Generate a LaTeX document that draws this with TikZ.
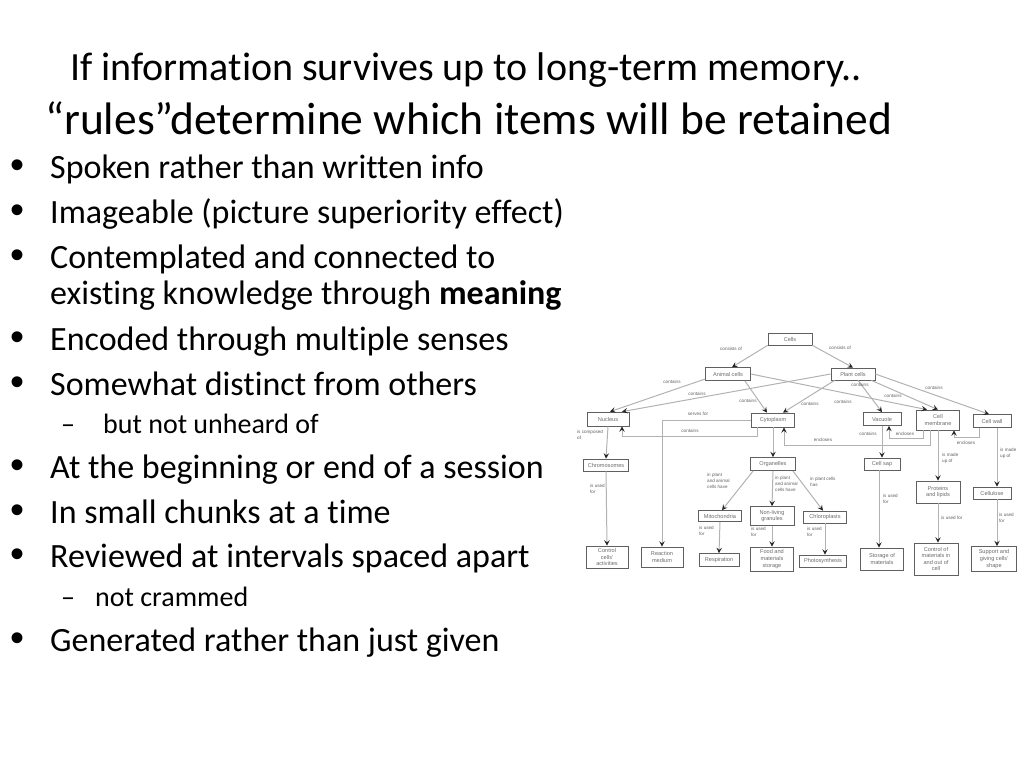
\documentclass[tikz,border=0pt]{standalone}
\usepackage{fontspec}
\setmainfont{Carlito}[Ligatures=NoCommon]
\newfontfamily\mapfont{Liberation Sans}
\usetikzlibrary{arrows.meta}

\tikzset{
  mapbox/.style={draw=gray!75!black, line width=0.7pt, fill=white, inner sep=0.5pt, align=center,
    text=gray!85!black, font=\mapfont\fontsize{5.6}{6.6}\selectfont},
  maplink/.style={draw=gray!60, line width=1pt, -{Stealth[length=5.5pt, width=5.5pt, inset=2.2pt, color=black!85]}},
  maplbl/.style={inner sep=0pt, align=left, text=gray!75!black, font=\mapfont\fontsize{4.6}{6}\selectfont},
  pointtxt/.style={anchor=base west, inner sep=0pt, font=\fontsize{34}{40}\selectfont},
  dotmark/.style={anchor=base west, inner sep=0pt, font=\mapfont\fontsize{40}{46}\selectfont},
  subtxt/.style={anchor=base west, inner sep=0pt, font=\fontsize{28}{34}\selectfont},
}

\begin{document}
\begin{tikzpicture}[x=1pt, y=-1pt]
\useasboundingbox (0,0) rectangle (1024,768);

% title
\node[anchor=base west, inner sep=0pt, font=\fontsize{40}{48}\selectfont] (title1) at (70,81) {If information survives up to long-term memory..};
\node[anchor=base west, inner sep=0pt, font=\fontsize{45.5}{54}\selectfont] (title2) at (45,134) {“rules”determine which items will be retained};

% bullet list
\foreach \yb in {178,223,268,350,395,478,523,567,651}
  \node[dotmark] (dot\yb) at (10,\yb) {•};
\node[pointtxt] (p1) at (50,178) {Spoken rather than written info};
\node[pointtxt] (p2) at (50,223) {Imageable (picture superiority effect)};
\node[pointtxt] (p3) at (50,268) {Contemplated and connected to};
\node[pointtxt] (p3b) at (50,304) {existing knowledge through \textbf{meaning}};
\node[pointtxt] (p4) at (50,350) {Encoded through multiple senses};
\node[pointtxt] (p5) at (50,395) {Somewhat distinct from others};
\node[subtxt] (d5) at (61,433) {–};
\node[subtxt] (s5) at (103,433) {but not unheard of};
\node[pointtxt] (p6) at (50,478) {At the beginning or end of a session};
\node[pointtxt] (p7) at (50,523) {In small chunks at a time};
\node[pointtxt] (p8) at (50,567) {Reviewed at intervals spaced apart};
\node[subtxt] (d8) at (61,606) {–};
\node[subtxt] (s8) at (95,606) {not crammed};
\node[pointtxt] (p9) at (50,651) {Generated rather than just given};

% concept map boxes
\node[mapbox, minimum width=44pt, minimum height=12pt] (cells) at (790,339) {Cells};
\node[mapbox, minimum width=45pt, minimum height=13pt] (animal) at (728,374) {Animal cells};
\node[mapbox, minimum width=44pt, minimum height=12pt] (plant) at (853,374) {Plant cells};
\node[mapbox, minimum width=42pt, minimum height=14pt] (nucleus) at (608,419) {Nucleus};
\node[mapbox, minimum width=43pt, minimum height=14pt] (cyto) at (773,420) {Cytoplasm};
\node[mapbox, minimum width=38pt, minimum height=13pt] (vacuole) at (882,419) {Vacuole};
\node[mapbox, minimum width=43pt, minimum height=20pt] (membrane) at (938,420) {Cell\\membrane};
\node[mapbox, minimum width=38pt, minimum height=13pt] (wall) at (992,421) {Cell wall};
\node[mapbox, minimum width=45pt, minimum height=12pt] (chromo) at (606,465) {Chromosomes};
\node[mapbox, minimum width=45pt, minimum height=13pt] (organ) at (773,464) {Organelles};
\node[mapbox, minimum width=36pt, minimum height=12pt] (sap) at (882,464) {Cell sap};
\node[mapbox, minimum width=44pt, minimum height=22pt] (proteins) at (938,492) {Proteins\\and lipids};
\node[mapbox, minimum width=38pt, minimum height=12pt] (cellulose) at (992,493) {Cellulose};
\node[mapbox, minimum width=43pt, minimum height=11pt] (mito) at (720,516) {Mitochondria};
\node[mapbox, minimum width=44pt, minimum height=19pt] (granules) at (772,516) {Non-living\\granules};
\node[mapbox, minimum width=43pt, minimum height=12pt] (chloro) at (825,517) {Chloroplasts};
\node[mapbox, minimum width=42pt, minimum height=22pt] (control) at (607,557) {Control\\cells'\\activities};
\node[mapbox, minimum width=42pt, minimum height=20pt] (reaction) at (662,557) {Reaction\\medium};
\node[mapbox, minimum width=40pt, minimum height=13pt] (respir) at (719,560) {Respiration};
\node[mapbox, minimum width=43pt, minimum height=24pt] (food) at (772,559) {Food and\\materials\\storage};
\node[mapbox, minimum width=47pt, minimum height=12pt] (photo) at (823,561) {Photosynthesis};
\node[mapbox, minimum width=43pt, minimum height=22pt] (storage) at (882,559) {Storage of\\materials};
\node[mapbox, minimum width=44pt, minimum height=32pt] (ctrlmat) at (936,559) {Control of\\materials in\\and out of\\cell};
\node[mapbox, minimum width=45pt, minimum height=25pt] (support) at (994,559) {Support and\\giving cells'\\shape};

% concept map links
\draw[maplink] (cells.south west) -- ([xshift=4pt]animal.north);
\draw[maplink] (cells.south east) -- (plant.north);
\draw[maplink] ([yshift=-5pt]animal.west) -- ([xshift=2pt]nucleus.north);
\draw[maplink] (plant.west) -- ([xshift=14pt]nucleus.north);
\draw[maplink] ([xshift=-6pt]animal.south east) -- ([xshift=-6pt]cyto.north);
\draw[maplink] ([xshift=4pt]plant.south west) -- ([xshift=10pt]cyto.north);
\draw[maplink] (animal.east) -- ([xshift=-11pt]membrane.north);
\draw[maplink] ([xshift=5pt]plant.south) -- (vacuole.north);
\draw[maplink] ([xshift=-4pt]plant.south east) -- (membrane.north);
\draw[maplink] (plant.east) -- ([xshift=-3pt]wall.north);
\draw[maplink] (nucleus.south) -- (chromo.north);
\draw[maplink] ([xshift=-16pt]cyto.south) -- ++(0,9) -| ([xshift=14pt]nucleus.south);
\draw[maplink] (cyto.west) -| (reaction.north);
\draw[maplink] (cyto.south) -- (organ.north);
\draw[maplink] ([xshift=-8pt]membrane.south) -- ++(0,15) -| ([xshift=11pt]cyto.south);
\draw[maplink] ([xshift=-15pt]membrane.south) -- ++(0,8) -| ([xshift=7pt]vacuole.south);
\draw[maplink] ([xshift=-13pt]wall.south) -- ++(0,10) -| ([xshift=16pt]membrane.south);
\draw[maplink] (vacuole.south) -- (sap.north);
\draw[maplink] (membrane.south) -- (proteins.north);
\draw[maplink] ([xshift=5pt]wall.south) -- ([xshift=5pt]cellulose.north);
\draw[maplink] (chromo.south) -- (control.north);
\draw[maplink] ([xshift=3pt]organ.south west) -- ([xshift=2pt]mito.north);
\draw[maplink] (organ.south) -- (granules.north);
\draw[maplink] ([xshift=-3pt]organ.south east) -- ([xshift=-2pt]chloro.north);
\draw[maplink] (mito.south) -- (respir.north);
\draw[maplink] (granules.south) -- (food.north);
\draw[maplink] (chloro.south) -- ([xshift=2pt]photo.north);
\draw[maplink] ([xshift=-3pt]sap.south) -- ([xshift=-3pt]storage.north);
\draw[maplink] (proteins.south) -- ([xshift=2pt]ctrlmat.north);
\draw[maplink] ([xshift=5pt]cellulose.south) -- ([xshift=3pt]support.north);

% link labels
\node[maplbl] (l1) at (731,349) {consists of};
\node[maplbl] (l2) at (840,348) {consists of};
\node[maplbl] (l3) at (672,382) {contains};
\node[maplbl] (l4) at (697,394) {contains};
\node[maplbl] (l5) at (748,401) {contains};
\node[maplbl] (l6) at (810,404) {contains};
\node[maplbl] (l7) at (843,402) {contains};
\node[maplbl] (l8) at (860,385) {contains};
\node[maplbl] (l9) at (893,396) {contains};
\node[maplbl] (l10) at (934,388) {contains};
\node[maplbl, anchor=north west] (l11) at (577,430) {is composed\\of};
\node[maplbl] (l12) at (690,431) {contains};
\node[maplbl] (l13) at (698,414) {serves for};
\node[maplbl] (l14) at (823,440) {encloses};
\node[maplbl] (l15) at (905,434) {encloses};
\node[maplbl] (l16) at (966,443) {encloses};
\node[maplbl] (l17) at (868,434) {contains};
\node[maplbl, anchor=north west] (l18) at (942,453) {is made\\up of};
\node[maplbl, anchor=north west] (l19) at (1000,448) {is made\\up of};
\node[maplbl, anchor=north west] (l20) at (590,484) {is used\\for};
\node[maplbl, anchor=north west] (l21) at (707,473) {in plant\\and animal\\cells have};
\node[maplbl, anchor=north west] (l22) at (775,476) {in plant\\and animal\\cells have};
\node[maplbl, anchor=north west] (l23) at (810,477) {in plant cells\\has};
\node[maplbl, anchor=north west] (l24) at (699,526) {is used\\for};
\node[maplbl, anchor=north west] (l25) at (751,527) {is used\\for};
\node[maplbl, anchor=north west] (l26) at (807,527) {is used\\for};
\node[maplbl, anchor=north west] (l27) at (883,494) {is used\\for};
\node[maplbl, anchor=west] (l28) at (941,518) {is used for};
\node[maplbl, anchor=north west] (l29) at (999,513) {is used\\for};
\end{tikzpicture}
\end{document}
